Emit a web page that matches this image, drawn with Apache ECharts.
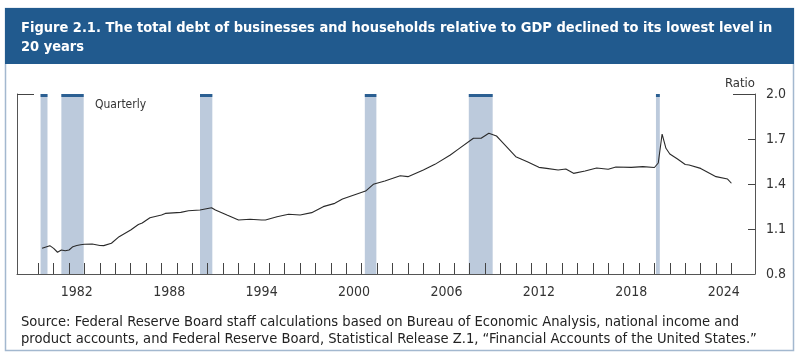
<!DOCTYPE html>
<html>
<head>
<meta charset="utf-8">
<script src="https://cdn.jsdelivr.net/npm/echarts@6/dist/echarts.min.js"></script>
<style>
html,body{margin:0;padding:0;background:#fff;}
#chart{width:800px;height:363px;}
</style>
</head>
<body>
<div id="chart"></div>
<script>
// Quarter-end dates (decimal years) and debt-to-GDP ratio
var dates = [1980.25,1980.75,1981.0,1981.25,1981.5,1981.75,1982.0,1982.25,1982.5,1982.75,1983.0,1983.5,1984.0,1984.25,1984.75,1985.25,1986.0,1986.5,1986.75,1987.25,1988.0,1988.25,1989.25,1989.75,1990.5,1991.25,1991.5,1992.25,1993.0,1993.75,1994.5,1994.75,1995.5,1996.25,1997.0,1997.75,1998.5,1999.25,1999.75,2000.5,2001.25,2001.75,2002.5,2003.5,2004.0,2005.0,2005.75,2006.75,2007.25,2008.25,2008.75,2009.25,2009.75,2010.0,2010.5,2011.0,2011.75,2012.5,2013.0,2013.75,2014.25,2014.75,2015.5,2016.25,2017.0,2017.5,2018.5,2019.25,2020.0,2020.25,2020.5,2020.75,2021.0,2021.5,2022.0,2022.25,2023.0,2024.0,2024.75,2025.0];
var ratio = [0.971,0.989,0.971,0.945,0.960,0.955,0.960,0.982,0.990,0.995,0.998,1.000,0.990,0.989,1.005,1.049,1.093,1.130,1.140,1.175,1.193,1.204,1.211,1.222,1.227,1.242,1.227,1.193,1.160,1.165,1.160,1.160,1.182,1.198,1.193,1.209,1.249,1.271,1.300,1.327,1.353,1.398,1.420,1.455,1.449,1.493,1.531,1.593,1.631,1.705,1.705,1.738,1.720,1.693,1.638,1.582,1.549,1.511,1.504,1.493,1.500,1.471,1.487,1.507,1.498,1.513,1.511,1.516,1.510,1.540,1.733,1.638,1.600,1.567,1.530,1.527,1.504,1.449,1.433,1.405];
// Recession periods (decimal years)
var recStart = [1980.15,1981.5,1990.5,2001.2,2007.95,2020.1];
var recEnd   = [1980.6,1982.95,1991.3,2001.95,2009.5,2020.35];
// Axis ticks and labels
var yearTicks = [];
for (var yr = 1980; yr <= 2025; yr++) yearTicks.push(yr);
var yearLabels = [1982,1988,1994,2000,2006,2012,2018,2024];
var yTicks = [0.8,1.1,1.4,1.7,2.0];

var titleText = 'Figure 2.1. The total debt of businesses and households relative to GDP declined to its lowest level in\n20 years';
var sourceText = 'Source: Federal Reserve Board staff calculations based on Bureau of Economic Analysis, national income and\nproduct accounts, and Federal Reserve Board, Statistical Release Z.1, \u201cFinancial Accounts of the United States.\u201d';

var FONT = "'Liberation Sans Narrow','DejaVu Sans Condensed',sans-serif";
var chart = echarts.init(document.getElementById('chart'), null, {renderer:'canvas'});

var lineData = dates.map(function(d,i){
  var item = {value:[d, ratio[i]]};
  if (i === dates.length-1) {
    item.label = {show:true, position:'bottom', distance:5, formatter:'Q4', color:'#333', fontSize:13, fontFamily:FONT};
  }
  return item;
});
var recAreas = recStart.map(function(s,i){ return [{xAxis:s, yAxis:0.8},{xAxis:recEnd[i], yAxis:2.0}]; });
var capAreas = recStart.map(function(s,i){ return [{xAxis:s, yAxis:1.98},{xAxis:recEnd[i], yAxis:2.0}]; });

chart.setOption({
  animation:false,
  title:[
    {text:titleText, left:16, top:14, textStyle:{color:'#fff', fontSize:14.5, fontWeight:'bold', fontFamily:FONT, lineHeight:19}},
    {text:sourceText, left:16, top:309, textStyle:{color:'#222', fontSize:14.6, fontWeight:'normal', fontFamily:FONT, lineHeight:17}}
  ],
  graphic:[
    {type:'rect', z:-10, shape:{x:5.5,y:8.5,width:788,height:342}, style:{fill:'#fff', stroke:'#a3b8cf', lineWidth:1.5}},
    {type:'rect', z:-9, shape:{x:5,y:8,width:789,height:56}, style:{fill:'#215a8e'}},
    {type:'text', left:95, top:99, style:{text:'Quarterly', fill:'#333', fontSize:12, fontFamily:FONT}}
  ],
  grid:{left:17, right:45, top:94, bottom:89, containLabel:false},
  xAxis:{
    type:'value', min:1978.62, max:2026.53, z:10,
    axisLine:{show:true, lineStyle:{color:'#555', width:1}},
    axisTick:{show:true, inside:true, length:11, customValues:yearTicks, lineStyle:{color:'#444', width:1}},
    axisLabel:{show:true, customValues:yearLabels.map(function(v){return v+0.5;}), formatter:function(v){return String(Math.floor(v));}, margin:11, color:'#333', fontSize:14, fontFamily:FONT},
    splitLine:{show:false}
  },
  yAxis:[
    {type:'value', position:'right', min:0.8, max:2.0, interval:0.3, z:10,
     name:'Ratio', nameLocation:'end', nameGap:4, nameTextStyle:{align:'right', verticalAlign:'bottom', color:'#333', fontSize:13, fontFamily:FONT},
     axisLine:{show:true, lineStyle:{color:'#555', width:1}},
     axisTick:{show:true, inside:true, length:7, customValues:[1.1,1.4,1.7], lineStyle:{color:'#444'}},
     axisLabel:{show:true, margin:11, color:'#333', fontSize:14, fontFamily:FONT, formatter:function(v){return v.toFixed(1);}},
     splitLine:{show:false}},
    {type:'value', position:'left', min:0.8, max:2.0, interval:0.3, z:10,
     axisLine:{show:true, lineStyle:{color:'#555', width:1}},
     axisTick:{show:true, inside:true, length:17, customValues:[2.0], lineStyle:{color:'#444'}},
     axisLabel:{show:false}, splitLine:{show:false}},
    {type:'value', position:'right', min:0.8, max:2.0, interval:0.3, z:10,
     axisLine:{show:false},
     axisTick:{show:true, inside:true, length:22, customValues:[2.0], lineStyle:{color:'#444'}},
     axisLabel:{show:false}, splitLine:{show:false}}
  ],
  series:[
    {type:'line', data:[], z:1, silent:true,
     markArea:{silent:true, itemStyle:{color:'#bccadc'}, data:recAreas}},
    {type:'line', data:[], z:1, silent:true,
     markArea:{silent:true, itemStyle:{color:'#2b5f92'}, data:capAreas}},
    {type:'line', data:lineData, z:5, showSymbol:false, symbol:'none', smooth:false,
     lineStyle:{color:'#2a2a2a', width:1.1}}
  ]
});
</script>
</body>
</html>
